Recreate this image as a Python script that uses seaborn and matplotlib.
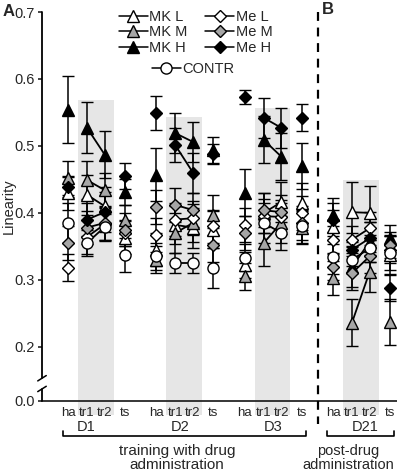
import numpy as np
import pandas as pd
import matplotlib
matplotlib.use("Agg")
import matplotlib.pyplot as plt
import seaborn as sns
from matplotlib.lines import Line2D
from matplotlib.patches import Rectangle
import matplotlib.transforms as mtransforms

# session labels and days
sessions = ["ha", "tr1", "tr2", "ts"]
days = ["D1", "D2", "D3", "D21"]

# mean linearity per group (D1 ha..ts, D2, D3, D21)
mk_l = [0.430, 0.427, 0.410, 0.363, 0.345, 0.382, 0.378, 0.375, 0.322, 0.400, 0.416, 0.415, 0.379, 0.401, 0.400, 0.337]
mk_m = [0.452, 0.449, 0.434, 0.390, 0.330, 0.370, 0.385, 0.397, 0.305, 0.355, 0.385, 0.378, 0.303, 0.236, 0.312, 0.237]
mk_h = [0.554, 0.527, 0.487, 0.431, 0.457, 0.519, 0.506, 0.494, 0.430, 0.509, 0.484, 0.470, 0.397, 0.319, 0.357, 0.362]
me_l = [0.318, 0.364, 0.383, 0.370, 0.367, 0.390, 0.392, 0.380, 0.382, 0.395, 0.394, 0.400, 0.360, 0.360, 0.377, 0.345]
me_m = [0.355, 0.378, 0.385, 0.375, 0.409, 0.412, 0.404, 0.352, 0.370, 0.404, 0.401, 0.385, 0.319, 0.310, 0.335, 0.352]
me_h = [0.439, 0.390, 0.401, 0.455, 0.549, 0.501, 0.460, 0.488, 0.573, 0.542, 0.527, 0.542, 0.390, 0.345, 0.362, 0.288]
contr = [0.385, 0.355, 0.379, 0.337, 0.335, 0.325, 0.325, 0.318, 0.333, 0.385, 0.370, 0.380, 0.334, 0.330, 0.347, 0.340]

# standard errors
mk_l_err = [0.025, 0.030, 0.028, 0.025, 0.025, 0.028, 0.030, 0.028, 0.020, 0.030, 0.030, 0.030, 0.025, 0.045, 0.040, 0.030]
mk_m_err = [0.025, 0.028, 0.025, 0.022, 0.020, 0.030, 0.028, 0.030, 0.020, 0.035, 0.030, 0.025, 0.025, 0.035, 0.030, 0.035]
mk_h_err = [0.050, 0.038, 0.035, 0.020, 0.040, 0.030, 0.030, 0.020, 0.035, 0.035, 0.035, 0.035, 0.025, 0.030, 0.030, 0.020]
me_l_err = [0.020, 0.025, 0.025, 0.020, 0.025, 0.025, 0.025, 0.025, 0.025, 0.025, 0.025, 0.025, 0.020, 0.020, 0.025, 0.020]
me_m_err = [0.025, 0.025, 0.025, 0.025, 0.025, 0.025, 0.025, 0.025, 0.025, 0.025, 0.025, 0.025, 0.020, 0.025, 0.025, 0.020]
me_h_err = [0.015, 0.025, 0.030, 0.020, 0.025, 0.025, 0.030, 0.015, 0.010, 0.030, 0.030, 0.020, 0.025, 0.025, 0.025, 0.020]
contr_err = [0.030, 0.020, 0.020, 0.025, 0.020, 0.015, 0.015, 0.030, 0.020, 0.030, 0.025, 0.025, 0.025, 0.020, 0.020, 0.025]

groups = ["MK L", "MK M", "MK H", "Me L", "Me M", "Me H", "CONTR"]
means = [mk_l, mk_m, mk_h, me_l, me_m, me_h, contr]
errs = [mk_l_err, mk_m_err, mk_h_err, me_l_err, me_m_err, me_h_err, contr_err]
markers = ["^", "^", "^", "D", "D", "D", "o"]
faces = ["white", "#a6a6a6", "black", "white", "#a6a6a6", "black", "white"]
msizes = [8.5, 8.5, 8.5, 6.5, 6.5, 6.5, 8]

# shaded box tops over tr1/tr2 per day
shade_tops = [0.569, 0.543, 0.557, 0.449]

# x layout
day_starts = [0, 4.65, 9.3, 13.95]
offsets = [0, 1.0, 1.93, 3.0]
xpos = [d + o for d in day_starts for o in offsets]

rows = []
for g, m, e in zip(groups, means, errs):
    for i, (v, s) in enumerate(zip(m, e)):
        rows.append({"group": g, "x": xpos[i], "day": days[i // 4],
                     "session": sessions[i % 4], "value": v, "sem": s})
df = pd.DataFrame(rows)

sns.set_style("ticks")
plt.rcParams["font.family"] = ["Liberation Sans", "DejaVu Sans"]

W, H = 397, 474
fig = plt.figure(figsize=(W / 100, H / 100), dpi=100)
ax = fig.add_axes([42 / W, 1 - 401 / H, (397 - 42) / W, (401 - 12) / H])

y0 = 0.119
ax.set_ylim(y0, 0.7)
ax.set_xlim(-1.37, 17.32)

# gray boxes behind training trials
for d, top in zip(day_starts, shade_tops):
    ax.add_patch(Rectangle((d + offsets[1] - 0.48, 0.098), offsets[2] - offsets[1] + 0.96,
                           top - 0.098, facecolor="#e6e6e6", edgecolor="none",
                           zorder=0, clip_on=False))

# connecting lines tr1 -> tr2
seg = df[df["session"].isin(["tr1", "tr2"])]
for g in groups:
    sns.lineplot(data=seg[seg["group"] == g], x="x", y="value", units="day",
                 estimator=None, color="black", lw=1.3, ax=ax, legend=False, zorder=3)

# points with error bars
for g, mk, fc, ms in zip(groups, markers, faces, msizes):
    sub = df[df["group"] == g]
    ax.errorbar(sub["x"], sub["value"], yerr=sub["sem"], fmt=mk, mfc=fc, mec="black",
                mew=1.0, ms=ms, ecolor="black", elinewidth=1.1, capsize=4.5,
                capthick=1.1, zorder=4)

# axes styling
sns.despine(ax=ax)
ax.spines["left"].set_visible(False)
ax.spines["bottom"].set_linewidth(1.3)
ax.set_yticks([y0, 0.2, 0.3, 0.4, 0.5, 0.6, 0.7])
ax.set_yticklabels(["0.0", "0.2", "0.3", "0.4", "0.5", "0.6", "0.7"], fontsize=10.5)
ax.tick_params(axis="y", length=3, width=1.2, pad=2)
ax.set_xticks(xpos)
ax.set_xticklabels(sessions * 4, fontsize=9.5)
ax.tick_params(axis="x", length=0, pad=4)
ax.set_ylabel("Linearity", fontsize=10.5)
ax.yaxis.set_label_coords((16 - 42) / 355, 0.5)
ax.set_xlabel("")

# broken left spine
yt = ax.get_yaxis_transform()
ax.plot([0, 0], [0.153, 0.7], transform=yt, color="black", lw=1.3, clip_on=False, zorder=5)
ax.plot([0, 0], [y0, 0.137], transform=yt, color="black", lw=1.3, clip_on=False, zorder=5)
dx = 0.012
ax.plot([-dx, dx], [0.149, 0.157], transform=yt, color="black", lw=1.1, clip_on=False)
ax.plot([-dx, dx], [0.133, 0.141], transform=yt, color="black", lw=1.1, clip_on=False)

# dashed separator
sep_x = (318 - 68) / 19.0
bt = mtransforms.blended_transform_factory(ax.transData, ax.transAxes)
ax.plot([sep_x, sep_x], [1.0, -0.06], transform=bt, color="black", lw=1.6,
        ls=(0, (4, 3)), clip_on=False, zorder=6)

# legends
def handle(mk, fc, ms):
    return Line2D([], [], color="black", lw=1.1, marker=mk, mfc=fc, mec="black", ms=ms)

h1 = [handle(markers[i], faces[i], msizes[i]) for i in range(6)]
leg1 = ax.legend(h1, groups[:6], ncol=2,
                 loc="upper left", bbox_to_anchor=(113 / W, 1 - 4 / H),
                 bbox_transform=fig.transFigure, frameon=False, fontsize=10.5,
                 handlelength=2.0, handletextpad=0.1, columnspacing=1.2,
                 labelspacing=0.1, borderaxespad=0)
ax.add_artist(leg1)
ax.legend([handle("o", "white", 8)], ["CONTR"], loc="upper left",
          bbox_to_anchor=(146 / W, 1 - 56 / H), bbox_transform=fig.transFigure,
          frameon=False, fontsize=10.5, handlelength=2.0, handletextpad=0.1,
          borderaxespad=0)

# day labels and brackets (figure pixel coords)
def fx(px):
    return px / W

def fy(py):
    return 1 - py / H

for lbl, px in zip(days, [86, 180, 273, 365]):
    fig.text(fx(px), fy(427), lbl, ha="center", va="center", fontsize=10.5)

for x1, x2 in [(63, 306), (327, 394)]:
    fig.add_artist(Line2D([fx(x1), fx(x1), fx(x2), fx(x2)],
                          [fy(431), fy(436), fy(436), fy(431)], color="black", lw=1.2))

fig.text(fx(177), fy(458), "training with drug\nadministration", ha="center",
         va="center", fontsize=11, linespacing=1.0)
fig.text(fx(348), fy(458), "post-drug\nadministration", ha="center",
         va="center", fontsize=10.5, linespacing=1.0)

fig.text(fx(3), fy(11), "A", fontsize=12, fontweight="bold", va="center", ha="left")
fig.text(fx(322), fy(10), "B", fontsize=12, fontweight="bold", va="center", ha="left")

fig.savefig("out.png", dpi=100)
